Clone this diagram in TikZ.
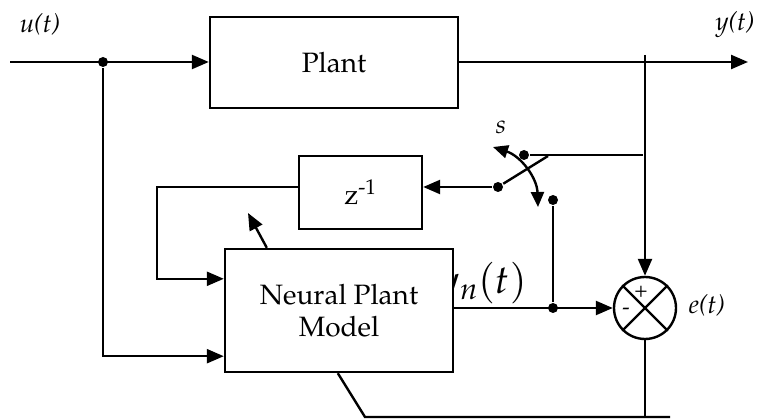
\documentclass[tikz,border=0pt]{standalone}
\usepackage{mathpazo}
\usepackage[T1]{fontenc}
\usetikzlibrary{arrows.meta, positioning, calc}

\begin{document}
\begin{tikzpicture}[
  x=1pt, y=-1pt,
  line width=2.4pt,
  >={Triangle[length=17pt, width=14pt]},
  block/.style={rectangle, draw, fill=white, line width=2.4pt, inner sep=0pt, font=\fontsize{28}{34}\selectfont},
  sum/.style={circle, draw, fill=white, line width=2.4pt, minimum size=62pt, inner sep=0pt},
  dot/.style={circle, fill, minimum size=10pt, inner sep=0pt},
  lbl/.style={font=\fontsize{26}{30}\selectfont\itshape, inner sep=0pt},
  sign/.style={font=\fontsize{22}{24}\selectfont, inner sep=0pt},
]
\useasboundingbox (0,0) rectangle (760,419);

%%% Labels
\node[inner sep=0pt, anchor=east, font=\fontsize{40}{44}\selectfont] (yn) at (528,283) {$y_n(t)$};
\node[lbl] (ulbl) at (40,25) {u(t)};
\node[lbl] (ylbl) at (735,25) {y(t)};
\node[lbl] (slbl) at (501,127) {s};
\node[lbl] (elbl) at (707,306) {e(t)};

%%% Nodes
\node[block, minimum width=248pt, minimum height=91pt] (plant) at (334,62.5) {Plant};
\node[block, minimum width=123pt, minimum height=73pt] (zdelay) at (360.5,192.5) {z\textsuperscript{-1}};
\node[block, minimum width=228pt, minimum height=123pt, align=center] (npm) at (339,310.5) {Neural Plant\\[-2pt]Model};
\node[sum] (sum) at (645,308) {};
\draw (sum.north west) -- (sum.south east);
\draw (sum.north east) -- (sum.south west);
\node[sign] (plus) at (641,292) {+};
\node[sign] (minus) at (626,311) {-};

\node[dot] (j1) at (103,62) {};
\node[dot] (jn) at (553,308) {};
\node[dot] (c2) at (553,200) {};
\node[dot] (c1) at (524,155) {};
\node[dot] (sw) at (498,187) {};

\coordinate (in) at (10,62);
\coordinate (out) at (748,62);
\coordinate (ytap) at (645,55);
\coordinate (c1end) at (643,155);
\coordinate (blade) at (548,156);
\coordinate (adapt) at (248,213);
\coordinate (ebot) at (365,417);
\coordinate (eend) at (670,417);

%%% Connectors
\draw[->] (in) -- (plant.west |- in);
\draw[->] (plant.east |- out) -- (out);
\draw[->] (j1) |- ($(npm.south west)+(0,-17)$);
\draw[->] (ytap) -- (sum.north);
\draw[->] (npm.east |- sum) -- (sum.west);
\draw (jn) -- (c2);
\draw (c1) -- (c1end);
\draw (sw) -- (blade);
\draw[->] (sw) -- (sw -| zdelay.east);
\draw[->] (zdelay.west |- sw) -- ++(-141,0) |- ($(npm.north west)+(0,31)$);
\draw[->] ($(npm.north west)+(43,0)$) -- (adapt);
\draw ($(npm.south west)+(114,0)$) -- (ebot) -- (eend);
\draw (sum.south) -- (sum.south |- ebot);
\draw[<->, >={Triangle[length=15pt, width=13pt]}] (493,147) to[bend left=35] (538,207);

\end{tikzpicture}
\end{document}
